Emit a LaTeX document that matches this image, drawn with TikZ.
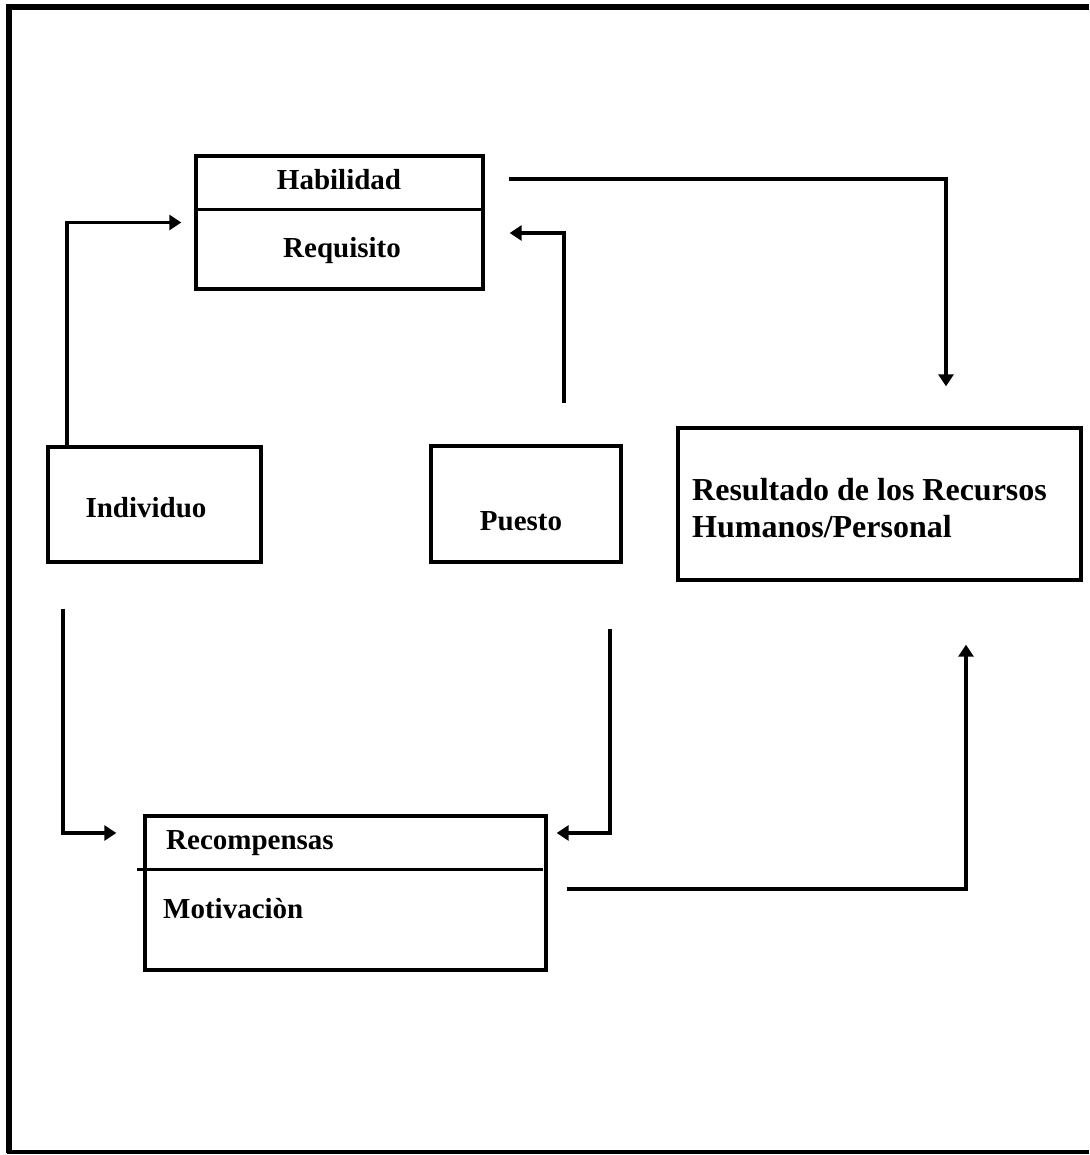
\documentclass[tikz,border=0pt]{standalone}
\usepackage{fontspec}
\setmainfont{Liberation Serif}
\usetikzlibrary{arrows.meta,calc}
\tikzset{
  hrbox/.style={draw, line width=3.4pt, inner sep=0pt},
  hrline/.style={line width=3.4pt},
  hrtext/.style={font=\fontsize{29}{34}\selectfont\bfseries, inner sep=0pt, anchor=base},
  hrbig/.style={font=\fontsize{32}{38}\selectfont\bfseries, inner sep=0pt, anchor=base west},
  hrflow/.style={line width=3.2pt, -{Triangle[length=12pt,width=15pt]}}
}

\begin{document}
\begin{tikzpicture}[x=1pt,y=-1pt]
  \useasboundingbox (0,0) rectangle (1089,1155);
  % outer frame, its right side is off the page
  \draw[line width=6pt] (1089,7) -- (9,7);
  \draw[line width=5.5pt] (9,4) -- (9,1153);
  \draw[line width=4.5pt] (7,1152) -- (1089,1152);

  % boxes
  \node[hrbox, minimum width=287pt, minimum height=133pt] (hab) at (339.5,222.5) {};
  \node[hrbox, minimum width=213pt, minimum height=115pt] (ind) at (154.5,504.5) {};
  \node[hrbox, minimum width=190pt, minimum height=116pt] (pue) at (526,504) {};
  \node[hrbox, minimum width=403pt, minimum height=152pt] (res) at (879.5,504) {};
  \node[hrbox, minimum width=401pt, minimum height=154pt] (rec) at (345.5,893) {};
  \draw[hrline] ([yshift=-55pt]hab.north west) -- ([yshift=-55pt]hab.north east);
  \draw[hrline] ([xshift=-6pt,yshift=-55pt]rec.north west) -- ([xshift=-5pt,yshift=-55pt]rec.north east);

  % labels
  \node[hrtext] (habt) at (339,190) {Habilidad};
  \node[hrtext] (reqt) at (342,258) {Requisito};
  \node[hrtext] (indt) at (146,517) {Individuo};
  \node[hrtext] (puet) at (521,530) {Puesto};
  \node[hrbig] (rest) at (692,500) {Resultado de los Recursos};
  \node[hrbig] (humt) at (692,537) {Humanos/Personal};
  \node[hrtext, anchor=base west] (rect) at (166,849) {Recompensas};
  \node[hrtext, anchor=base west] (mott) at (163,918) {Motivaciòn};

  % connectors
  \draw[hrflow] ([xshift=-87.5pt]ind.north) |- ([xshift=-13pt]hab.west);
  \draw[hrflow] ([xshift=38pt,yshift=41pt]pue.north) |- ([xshift=25pt,yshift=-10.5pt]hab.east);
  \draw[hrflow] ([xshift=24pt,yshift=43.5pt]hab.east) -| ([xshift=66.5pt,yshift=40pt]res.north);
  \draw[hrflow] ([xshift=-91.5pt,yshift=-45pt]ind.south) |- ([xshift=-27pt,yshift=60pt]rec.west);
  \draw[hrflow] ([xshift=84pt,yshift=-65pt]pue.south) |- ([xshift=9pt,yshift=60pt]rec.east);
  \draw[hrflow] ([xshift=19pt,yshift=4pt]rec.east) -| ([xshift=86.5pt,yshift=-63pt]res.south);
\end{tikzpicture}
\end{document}
